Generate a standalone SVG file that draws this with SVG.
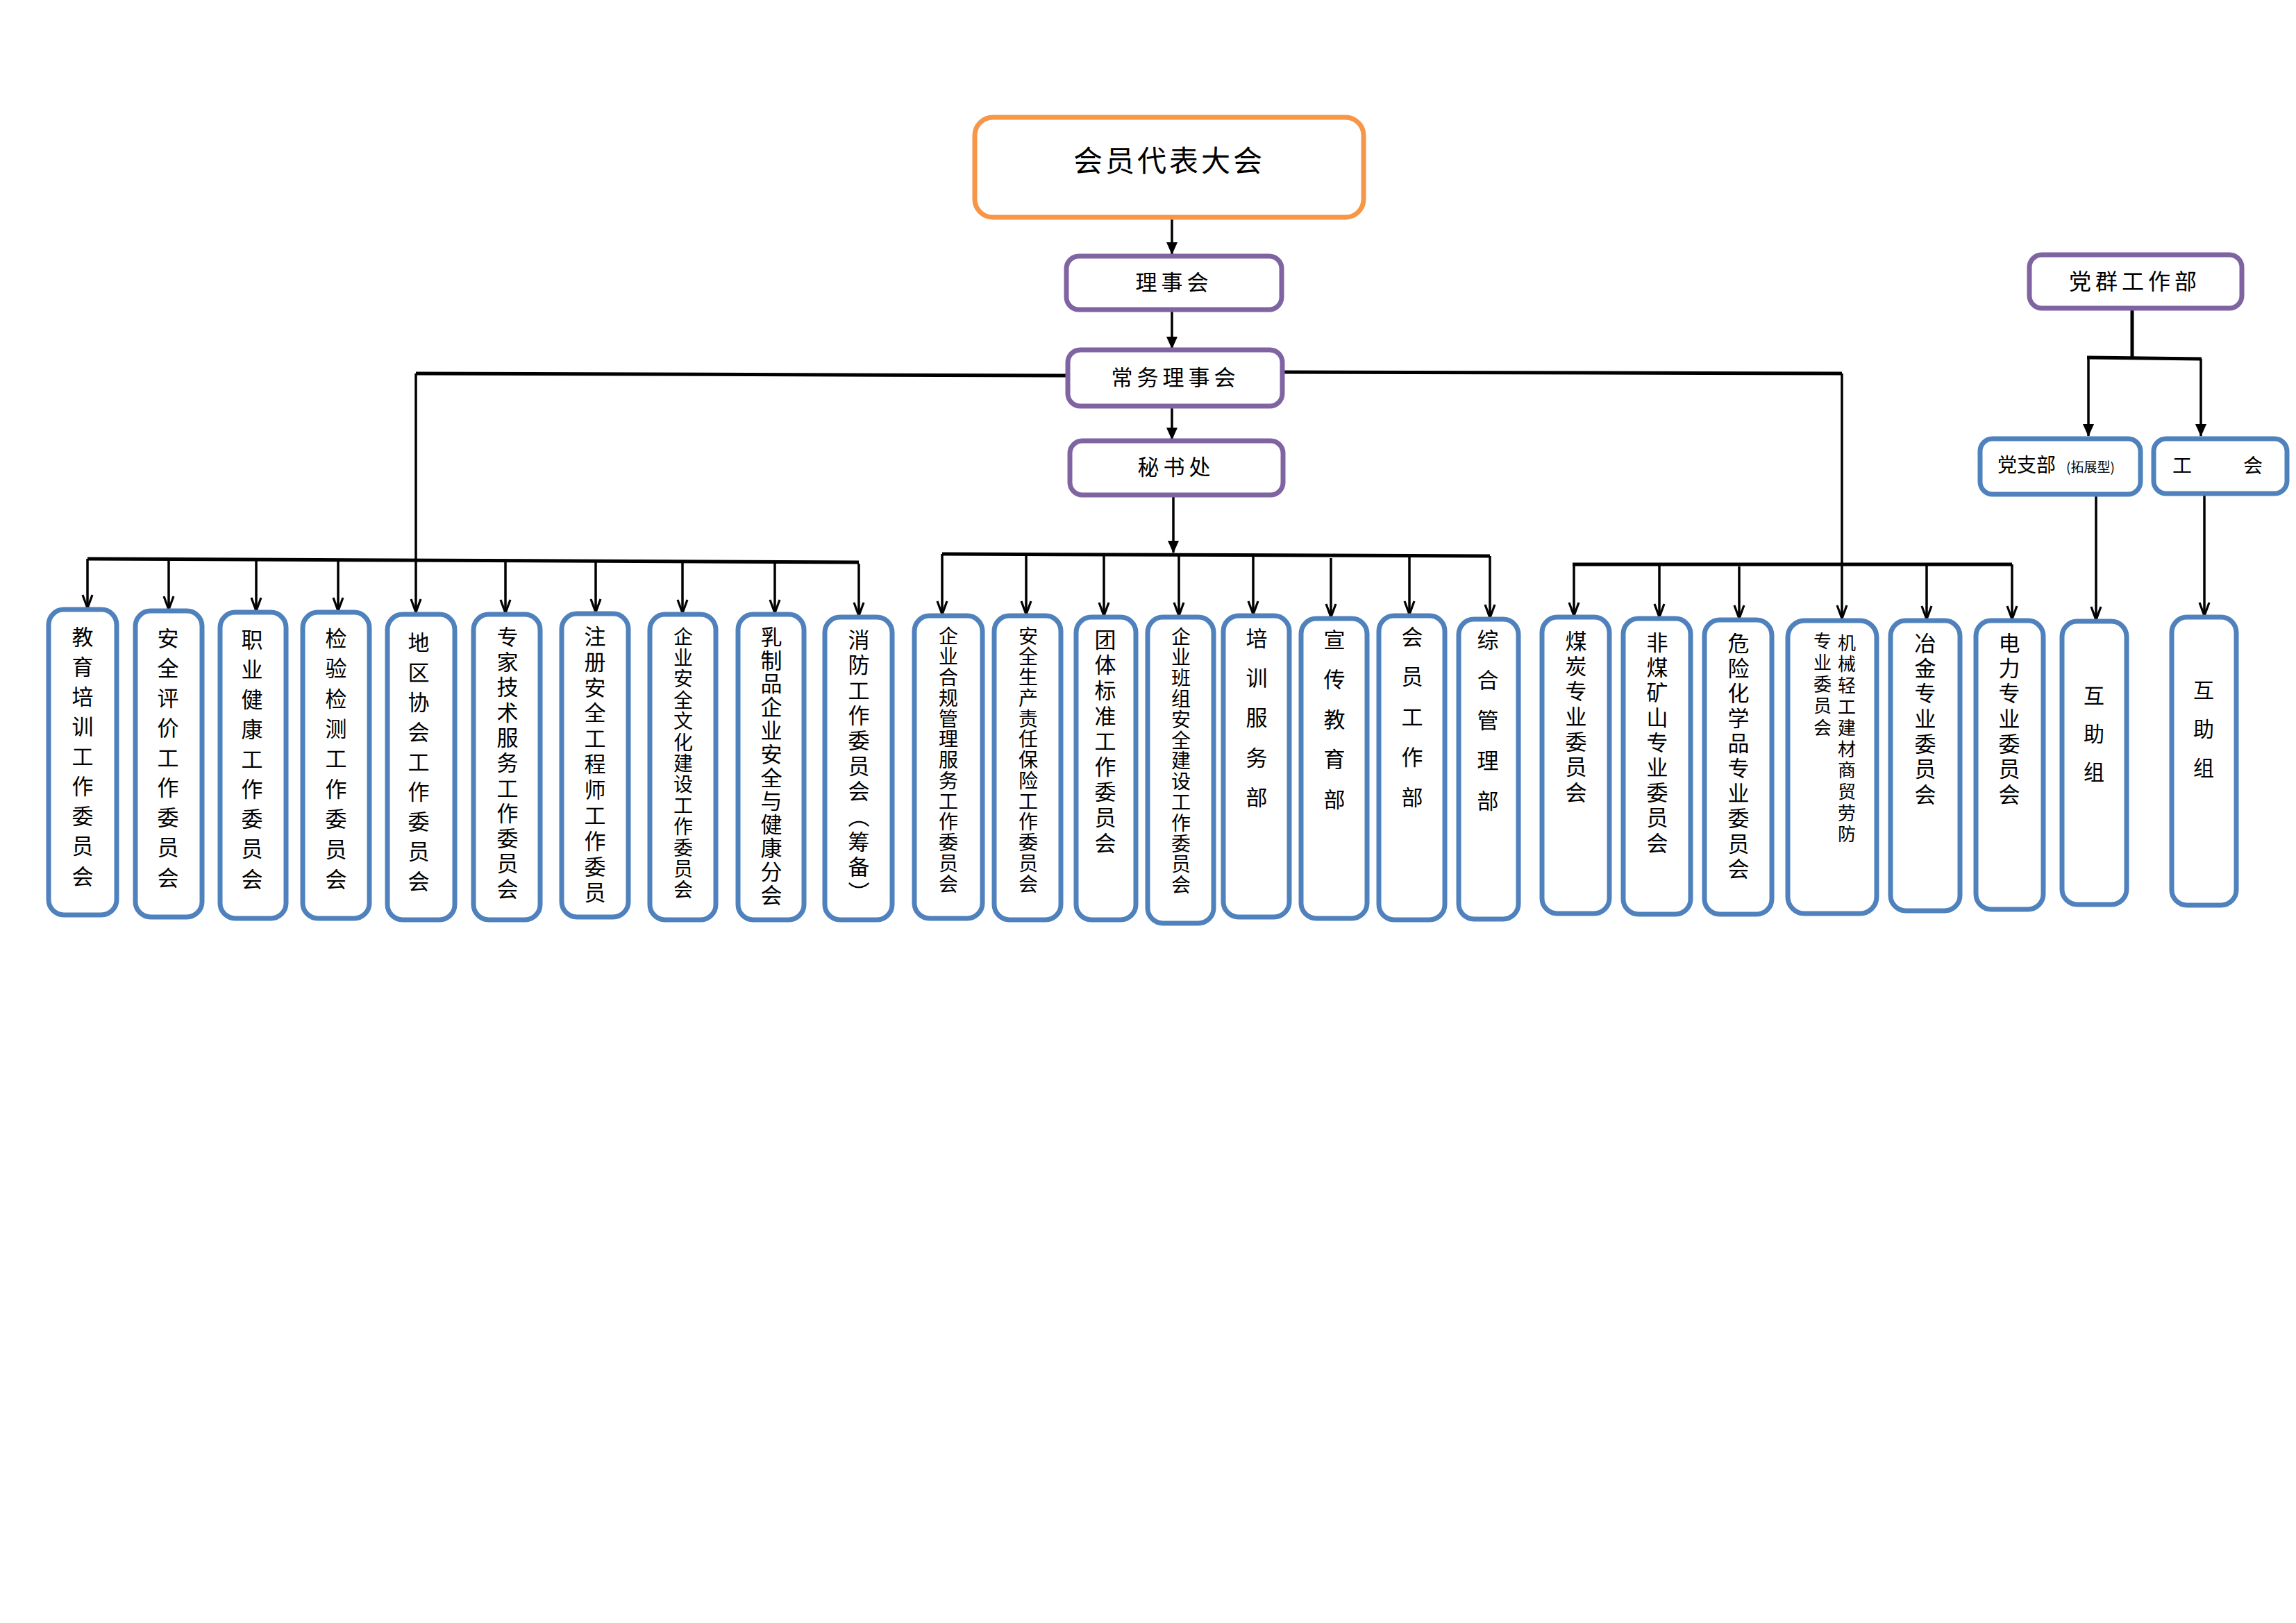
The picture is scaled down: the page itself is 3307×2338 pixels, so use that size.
<svg xmlns="http://www.w3.org/2000/svg" width="3307" height="2338" viewBox="0 0 3307 2338">
<style>
text{font-family:"Noto Sans CJK SC","Noto Sans",sans-serif;fill:#000}
.h{text-anchor:middle}
.v{writing-mode:vertical-rl}
.orange{fill:#fff;stroke:#F79646;stroke-width:7}
.purple{fill:#fff;stroke:#8064A2;stroke-width:7}
.blue{fill:#fff;stroke:#4F81BD;stroke-width:7}
.c{fill:none;stroke:#000;stroke-width:3.5}
.bar{fill:none;stroke:#000;stroke-width:5}
.tri{marker-end:url(#tri)}
.vee{marker-end:url(#vee)}
</style>
<defs>
<marker id="tri" markerUnits="userSpaceOnUse" markerWidth="18" markerHeight="18" viewBox="0 0 18 18" refX="17" refY="9" orient="auto"><path d="M0,1 L18,9 L0,17 z" fill="#000"/></marker>
<marker id="vee" markerUnits="userSpaceOnUse" markerWidth="22" markerHeight="18" viewBox="0 0 22 18" refX="20" refY="9" orient="auto"><path d="M1,2 L20,9 L1,16" fill="none" stroke="#000" stroke-width="3.2"/></marker>
</defs>
<rect width="3307" height="2338" fill="#fff"/>

<g id="connectors">
<line class="c tri" x1="1688" y1="314" x2="1688" y2="366"/>
<line class="c tri" x1="1688" y1="448" x2="1688" y2="502"/>
<line class="c tri" x1="1688" y1="587" x2="1688" y2="633"/>
<polyline class="bar" points="1535,541 599,538"/>
<line class="c vee" x1="599" y1="538" x2="599" y2="882"/>
<polyline class="bar" points="1850,536 2653,538"/>
<line class="c vee" x1="2653" y1="538" x2="2653" y2="891"/>
<line class="c tri" x1="1690" y1="715" x2="1690" y2="796"/>
<line class="bar" x1="126" y1="805" x2="1237" y2="810"/>
<line class="c vee" x1="126" y1="805" x2="126" y2="876"/>
<line class="c vee" x1="243" y1="806" x2="243" y2="878"/>
<line class="c vee" x1="369" y1="806" x2="369" y2="880"/>
<line class="c vee" x1="487" y1="807" x2="487" y2="880"/>
<line class="c vee" x1="728" y1="808" x2="728" y2="883"/>
<line class="c vee" x1="858" y1="808" x2="858" y2="882"/>
<line class="c vee" x1="983" y1="809" x2="983" y2="883"/>
<line class="c vee" x1="1116" y1="809" x2="1116" y2="883"/>
<line class="c vee" x1="1237" y1="812" x2="1237" y2="887"/>
<line class="bar" x1="1357" y1="798" x2="2146" y2="801"/>
<line class="c vee" x1="1357" y1="798" x2="1357" y2="885"/>
<line class="c vee" x1="1478" y1="798" x2="1478" y2="885"/>
<line class="c vee" x1="1590" y1="799" x2="1590" y2="887"/>
<line class="c vee" x1="1698" y1="799" x2="1698" y2="887"/>
<line class="c vee" x1="1805" y1="800" x2="1805" y2="885"/>
<line class="c vee" x1="1917" y1="804" x2="1917" y2="889"/>
<line class="c vee" x1="2030" y1="801" x2="2030" y2="885"/>
<line class="c vee" x1="2146" y1="801" x2="2146" y2="890"/>
<line class="bar" x1="2265" y1="813" x2="2898" y2="813"/>
<line class="c vee" x1="2267" y1="813" x2="2267" y2="887"/>
<line class="c vee" x1="2390" y1="813" x2="2390" y2="889"/>
<line class="c vee" x1="2505" y1="816" x2="2505" y2="891"/>
<line class="c vee" x1="2775" y1="813" x2="2775" y2="892"/>
<line class="c vee" x1="2898" y1="813" x2="2898" y2="892"/>
<line class="bar" x1="3071" y1="446" x2="3071" y2="516"/>
<line class="bar" x1="3006" y1="515" x2="3171" y2="517"/>
<line class="c tri" x1="3008" y1="515" x2="3008" y2="628"/>
<line class="c tri" x1="3170" y1="517" x2="3170" y2="628"/>
<line class="c vee" x1="3019" y1="714" x2="3019" y2="893"/>
<line class="c vee" x1="3175" y1="712" x2="3175" y2="887"/>
</g>

<g id="n-hydb"><rect class="orange" x="1404" y="169" width="560" height="144" rx="26"/><text class="h" x="1684" y="247" font-size="42" letter-spacing="4">会员代表大会</text></g>
<g id="n-lsh"><rect class="purple" x="1536" y="369" width="310" height="77" rx="18"/><text class="h" x="1691" y="418" font-size="31" letter-spacing="6">理事会</text></g>
<g id="n-cwlsh"><rect class="purple" x="1538" y="504" width="309" height="81" rx="18"/><text class="h" x="1693" y="555" font-size="31" letter-spacing="6">常务理事会</text></g>
<g id="n-msc"><rect class="purple" x="1541" y="635" width="307" height="78" rx="18"/><text class="h" x="1694" y="684" font-size="31" letter-spacing="6">秘书处</text></g>
<g id="n-dqgzb"><rect class="purple" x="2923" y="367" width="306" height="77" rx="18"/><text class="h" x="3075" y="417" font-size="32" letter-spacing="6">党群工作部</text></g>
<g id="n-dzb"><rect class="blue" x="2852" y="632" width="231" height="80" rx="18"/><text x="2877" y="680" font-size="28">党支部<tspan font-size="19" dx="15">(拓展型)</tspan></text></g>
<g id="n-gh"><rect class="blue" x="3102" y="632" width="192" height="79" rx="18"/><text x="3129" y="681" font-size="28">工<tspan x="3231">会</tspan></text></g>

<g id="n1"><rect class="blue" x="70" y="878" width="98" height="440" rx="22"/><text class="v" x="119" y="901.5" font-size="31" letter-spacing="12.1">教育培训工作委员会</text></g>
<g id="n2"><rect class="blue" x="195" y="880" width="96" height="441" rx="22"/><text class="v" x="242" y="903.5" font-size="31" letter-spacing="12.1">安全评价工作委员会</text></g>
<g id="n3"><rect class="blue" x="317" y="882" width="95" height="441" rx="22"/><text class="v" x="363" y="905.5" font-size="31" letter-spacing="12.1">职业健康工作委员会</text></g>
<g id="n4"><rect class="blue" x="436" y="882" width="96" height="441" rx="22"/><text class="v" x="484" y="903.5" font-size="31" letter-spacing="12.4">检验检测工作委员会</text></g>
<g id="n5"><rect class="blue" x="558" y="885" width="97" height="440" rx="22"/><text class="v" x="603" y="909.5" font-size="31" letter-spacing="12">地区协会工作委员会</text></g>
<g id="n6"><rect class="blue" x="682" y="885" width="96" height="440" rx="22"/><text class="v" x="731" y="901.5" font-size="31" letter-spacing="5.3">专家技术服务工作委员会</text></g>
<g id="n7"><rect class="blue" x="809" y="884" width="96" height="437" rx="22"/><text class="v" x="857" y="900.5" font-size="31" letter-spacing="5.9">注册安全工程师工作委员</text></g>
<g id="n8"><rect class="blue" x="936" y="885" width="95" height="440" rx="22"/><text class="v" x="984" y="903" font-size="28" letter-spacing="2.4">企业安全文化建设工作委员会</text></g>
<g id="n9"><rect class="blue" x="1063" y="885" width="95" height="440" rx="22"/><text class="v" x="1111" y="901.5" font-size="31" letter-spacing="2.8">乳制品企业安全与健康分会</text></g>
<g id="n10"><rect class="blue" x="1188" y="889" width="97" height="436" rx="22"/><text class="v" x="1237" y="905.5" font-size="31" letter-spacing="5.4">消防工作委员会（筹备）</text></g>
<g id="n11"><rect class="blue" x="1317" y="887" width="98" height="436" rx="22"/><text class="v" x="1366" y="902" font-size="28" letter-spacing="1.75">企业合规管理服务工作委员会</text></g>
<g id="n12"><rect class="blue" x="1432" y="887" width="96" height="438" rx="22"/><text class="v" x="1481" y="902" font-size="28" letter-spacing="1.75">安全生产责任保险工作委员会</text></g>
<g id="n13"><rect class="blue" x="1550" y="889" width="86" height="436" rx="22"/><text class="v" x="1592" y="905.5" font-size="31" letter-spacing="5.6">团体标准工作委员会</text></g>
<g id="n14"><rect class="blue" x="1653" y="889" width="95" height="441" rx="22"/><text class="v" x="1701" y="903" font-size="28" letter-spacing="1.8">企业班组安全建设工作委员会</text></g>
<g id="n15"><rect class="blue" x="1762" y="887" width="95" height="434" rx="22"/><text class="v" x="1810" y="903.5" font-size="31" letter-spacing="26.3">培训服务部</text></g>
<g id="n16"><rect class="blue" x="1874" y="891" width="95" height="432" rx="22"/><text class="v" x="1922" y="905.5" font-size="31" letter-spacing="26.5">宣传教育部</text></g>
<g id="n17"><rect class="blue" x="1986" y="887" width="95" height="438" rx="22"/><text class="v" x="2034" y="901.5" font-size="31" letter-spacing="26.7">会员工作部</text></g>
<g id="n18"><rect class="blue" x="2101" y="892" width="86" height="432" rx="22"/><text class="v" x="2143" y="905.5" font-size="31" letter-spacing="27">综合管理部</text></g>
<g id="n19"><rect class="blue" x="2221" y="889" width="97" height="427" rx="22"/><text class="v" x="2270" y="907.5" font-size="31" letter-spacing="5.3">煤炭专业委员会</text></g>
<g id="n20"><rect class="blue" x="2338" y="891" width="97" height="426" rx="22"/><text class="v" x="2387" y="909.5" font-size="31" letter-spacing="5.1">非煤矿山专业委员会</text></g>
<g id="n21"><rect class="blue" x="2455" y="893" width="97" height="424" rx="22"/><text class="v" x="2504" y="910.5" font-size="31" letter-spacing="5.1">危险化学品专业委员会</text></g>
<g id="n22"><rect class="blue" x="2575" y="894" width="128" height="422" rx="24"/><text class="v" font-size="26"><tspan x="2660" y="913" letter-spacing="4.6">机械轻工建材商贸劳防</tspan><tspan x="2625" y="910" letter-spacing="5.2">专业委员会</tspan></text></g>
<g id="n23"><rect class="blue" x="2723" y="894" width="100" height="418" rx="22"/><text class="v" x="2773" y="910.5" font-size="31" letter-spacing="5.3">冶金专业委员会</text></g>
<g id="n24"><rect class="blue" x="2846" y="894" width="97" height="416" rx="22"/><text class="v" x="2894" y="910.5" font-size="31" letter-spacing="5.3">电力专业委员会</text></g>
<g id="n25"><rect class="blue" x="2970" y="895" width="93" height="408" rx="22"/><text class="v" x="3016" y="987" font-size="30" letter-spacing="25">互助组</text></g>
<g id="n26"><rect class="blue" x="3128" y="889" width="93" height="415" rx="22"/><text class="v" x="3174" y="979" font-size="30" letter-spacing="26">互助组</text></g>
</svg>
